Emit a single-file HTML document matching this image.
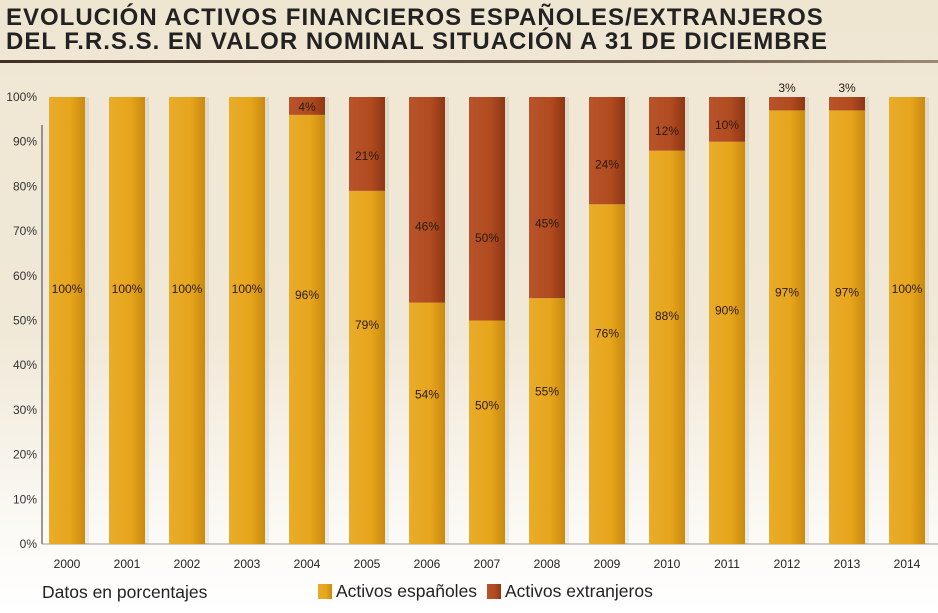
<!DOCTYPE html>
<html><head><meta charset="utf-8"><style>
body{margin:0;width:938px;height:613px;overflow:hidden;font-family:"Liberation Sans",sans-serif;background:linear-gradient(#efe6d2 0%,#f1e9d8 55%,#fbf9f4 85%,#ffffff 100%);}
#title{position:absolute;left:6px;top:6px;font-weight:bold;font-size:24px;line-height:24px;color:#222;letter-spacing:1px;}
#rule{position:absolute;left:0;top:60px;width:938px;height:3px;background:linear-gradient(90deg,#3d3025,#6b5a45 70%,#9a8a70);}
</style></head><body>
<div id="title">EVOLUCIÓN ACTIVOS FINANCIEROS ESPAÑOLES/EXTRANJEROS<br>DEL F.R.S.S. EN VALOR NOMINAL SITUACIÓN A 31 DE DICIEMBRE</div>
<div id="rule"></div>
<svg id="chart" width="938" height="613" style="position:absolute;left:0;top:0">
<defs>
<linearGradient id="gy" x1="0" x2="1"><stop offset="0" stop-color="#e9ac2a"/><stop offset="0.6" stop-color="#e6a51c"/><stop offset="1" stop-color="#c98a10"/></linearGradient>
<linearGradient id="gr" x1="0" x2="1"><stop offset="0" stop-color="#b9532a"/><stop offset="0.6" stop-color="#b04b20"/><stop offset="1" stop-color="#8f3613"/></linearGradient>
</defs>
</svg>
<script>
const years=["2000","2001","2002","2003","2004","2005","2006","2007","2008","2009","2010","2011","2012","2013","2014"];
const espanoles=[100,100,100,100,96,79,54,50,55,76,88,90,97,97,100];
const extranjeros=[0,0,0,0,4,21,46,50,45,24,12,10,3,3,0];
const yTicks=[0,10,20,30,40,50,60,70,80,90,100];
const NS="http://www.w3.org/2000/svg";
const svg=document.getElementById('chart');
const y0=544,y100=97,bw=36;
const yS=v=>y0-(y0-y100)*v/100;
const xC=i=>67+60*i;
function mk(t,a,txt){const e=document.createElementNS(NS,t);for(const k in a)e.setAttribute(k,a[k]);if(txt!==undefined)e.textContent=txt;svg.appendChild(e);return e;}
const ax=mk('line',{x1:42,y1:y0,x2:938,y2:y0,stroke:'#999','stroke-width':1});


const ay=mk('line',{x1:42,y1:y100+28,x2:42,y2:y0,stroke:'#777','stroke-width':1.5});


yTicks.forEach(v=>{const t=mk('text',{x:37,y:yS(v)+4,'text-anchor':'end','font-size':12,fill:'#333'},v+'%');

});
years.forEach((yr,i)=>{
 const x=xC(i)-bw/2;
 const sh=mk('rect',{x:x+4,y:yS(100),width:bw,height:y0-yS(100),fill:'#000',opacity:0.06});
 
 
 const e=mk('rect',{x:x,y:yS(espanoles[i]),width:bw,height:y0-yS(espanoles[i]),fill:'url(#gy)'});
 
 
 const tot=espanoles[i]+extranjeros[i];
 if(extranjeros[i]>0){
  const r=mk('rect',{x:x,y:yS(tot),width:bw,height:yS(espanoles[i])-yS(tot),fill:'url(#gr)'});
  
  
  let ly;
  if(extranjeros[i]<4) ly=yS(100)-5;
  else if(extranjeros[i]<=4) ly=yS(100)+14;
  else ly=yS(tot-extranjeros[i]*0.63)+4;
  const l=mk('text',{x:xC(i),y:ly,'text-anchor':'middle','font-size':12,fill:'#2a1a12'},extranjeros[i]+'%');
  
  
 }
 const lv=espanoles[i]>=86?Math.min(57,espanoles[i]*0.58):espanoles[i]*0.62;
 const l2=mk('text',{x:xC(i),y:yS(lv)+4,'text-anchor':'middle','font-size':12,fill:'#2a1a12'},espanoles[i]+'%');
 
 
 const xl=mk('text',{x:xC(i),y:568,'text-anchor':'middle','font-size':12,fill:'#222'},yr);
 
 
});
const note=mk('text',{x:42,y:598,'font-size':17.5,fill:'#222'},'Datos en porcentajes');


const s1=mk('rect',{x:318,y:584,width:14,height:15,fill:'url(#gy)'});


const t1=mk('text',{x:336,y:597,'font-size':17.5,fill:'#222'},'Activos españoles');


const s2=mk('rect',{x:487,y:584,width:14,height:15,fill:'url(#gr)'});


const t2=mk('text',{x:505,y:597,'font-size':17.5,fill:'#222'},'Activos extranjeros');


</script>
</body></html>
